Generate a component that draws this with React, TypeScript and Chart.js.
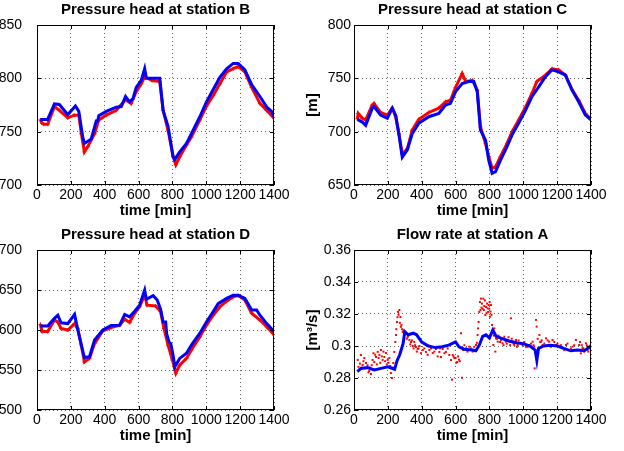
import React, { useEffect, useRef } from 'react';
import { Chart, registerables } from 'chart.js';
Chart.register(...registerables);

const FONT = "'Liberation Sans', Arial, Helvetica, sans-serif";

// x axis (time, min)
const xMin = 0;
const xMax = 1400;
const xStep = 200;
const xLabels = ['0', '200', '400', '600', '800', '1000', '1200', '1400'];

// ---------- Station B ----------
const bTicks = ['700', '750', '800', '850'];
const bBlueT = [20, 63, 103, 132, 182, 227, 247, 270, 280, 320, 350, 358, 365, 409, 468, 498, 523, 547, 567, 586, 616, 636, 646, 725, 745, 774, 804, 814, 843, 883, 912, 962, 1001, 1041, 1080, 1120, 1159, 1189, 1228, 1268, 1317, 1357, 1386, 1400];
const bBlueV = [761.5, 761.5, 776, 775.5, 766, 774, 769, 745, 739, 743, 760, 760, 765, 769, 773, 773.5, 783, 778, 781, 791.5, 798, 809, 800, 800, 770, 755, 726.5, 724, 731, 739, 748, 764, 778, 789.5, 801, 809, 814, 814, 808, 794, 783, 773, 769, 764];
const bRedT = [20, 30, 40, 63, 103, 132, 182, 220, 247, 262, 280, 300, 340, 365, 409, 468, 523, 556, 586, 616, 636, 680, 725, 745, 774, 804, 820, 843, 883, 912, 962, 1001, 1041, 1080, 1120, 1159, 1189, 1228, 1268, 1317, 1357, 1400];
const bRedV = [761, 758, 757, 757, 773.5, 770, 763, 765.5, 765.5, 748, 731, 736, 748, 761, 765.5, 770, 780, 776.5, 787.5, 795, 801.5, 798, 797, 770, 751.5, 726.5, 719, 726.5, 737.5, 745, 761, 774, 784, 795, 806, 809, 811, 806, 791.5, 776.5, 770, 762.5];

// ---------- Station C ----------
const cTicks = ['650', '700', '750', '800'];
const cBlueT = [20, 49, 69, 108, 118, 157, 197, 226, 246, 265, 285, 315, 344, 383, 442, 501, 541, 570, 600, 639, 678, 708, 728, 747, 777, 796, 816, 836, 865, 904, 934, 973, 1013, 1052, 1091, 1131, 1170, 1209, 1249, 1288, 1327, 1367, 1400];
const cBlueV = [711.5, 709, 706, 722, 723.5, 715.5, 712.5, 722, 715.5, 698, 676, 683, 698, 708, 714, 717, 725, 726.5, 737.5, 745, 747, 747, 737.5, 701.5, 692, 673, 661, 662.5, 673, 686, 697, 708, 720, 733, 742, 751.5, 758, 756, 753, 739, 728, 715.5, 711];
const cRedT = [20, 25, 49, 69, 108, 118, 157, 197, 226, 246, 265, 285, 315, 344, 383, 442, 501, 541, 570, 600, 639, 660, 700, 728, 747, 777, 796, 816, 836, 865, 904, 934, 973, 1013, 1052, 1080, 1131, 1170, 1209, 1249, 1288, 1327, 1367, 1400];
const cRedV = [712, 717, 712.5, 711, 725, 726.5, 718, 715.5, 722, 714, 698, 679, 684, 701.5, 711.5, 718, 722, 728, 729.5, 741.5, 754.5, 747, 748, 739, 704.5, 689, 676.5, 665.5, 667, 676.5, 689, 700, 711, 723, 736, 747, 753, 759, 758, 753, 739.5, 729.5, 717, 711.5];

// ---------- Station D ----------
const dTicks = ['500', '550', '600', '650', '700'];
const dBlueT = [20, 63, 103, 123, 142, 182, 222, 237, 262, 280, 310, 340, 389, 438, 488, 518, 547, 577, 606, 636, 646, 686, 710, 730, 745, 760, 766, 780, 790, 804, 814, 843, 883, 912, 962, 1001, 1041, 1070, 1120, 1159, 1189, 1228, 1268, 1297, 1317, 1357, 1400];
const dBlueV = [605, 605, 614.5, 618.5, 609, 608, 619.5, 604, 581, 565.5, 566.5, 587.5, 600, 605.5, 606, 619.5, 616.5, 623.5, 631, 650, 638.5, 643, 637.5, 626, 610, 610, 595, 585, 583, 568.5, 554, 564.5, 571, 581, 596, 610, 623, 633, 639.5, 643.5, 643.5, 639.5, 625, 625, 618.5, 608, 598];
const dRedT = [20, 30, 63, 103, 123, 142, 182, 222, 240, 262, 280, 310, 340, 389, 438, 488, 518, 547, 577, 606, 636, 650, 700, 730, 750, 774, 800, 820, 843, 883, 912, 962, 1001, 1041, 1080, 1120, 1159, 1189, 1228, 1268, 1317, 1357, 1400];
const dRedV = [607, 598, 598, 612.5, 610, 602, 600, 608, 602, 581, 560, 564.5, 583, 599, 603, 606, 613.5, 609.5, 621, 629, 644, 631, 630, 623, 602, 581, 562.5, 546, 556, 564.5, 575, 591.5, 606, 618.5, 629, 636, 641.5, 643, 637.5, 621, 612.5, 604, 594];

// ---------- Flow rate at station A ----------
const aTicks = ['0.26', '0.28', '0.3', '0.32', '0.34', '0.36'];
const aBlueT = [20, 40, 80, 120, 160, 200, 240, 255, 270, 290, 300, 320, 350, 370, 400, 440, 480, 520, 560, 600, 620, 650, 700, 720, 740, 760, 780, 800, 820, 840, 880, 920, 960, 1000, 1040, 1070, 1080, 1090, 1120, 1160, 1200, 1240, 1280, 1320, 1360, 1400];
const aBlueV = [0.284, 0.286, 0.2865, 0.285, 0.286, 0.287, 0.2855, 0.291, 0.2945, 0.3015, 0.309, 0.307, 0.308, 0.307, 0.3025, 0.3, 0.299, 0.2995, 0.3005, 0.3025, 0.2995, 0.298, 0.2975, 0.297, 0.3005, 0.306, 0.307, 0.305, 0.31, 0.306, 0.3045, 0.303, 0.302, 0.3015, 0.3, 0.2975, 0.291, 0.2985, 0.3, 0.3005, 0.3, 0.2985, 0.297, 0.2975, 0.297, 0.3];
const aRedT = [22, 31, 41, 51, 61, 71, 90, 100, 110, 130, 140, 150, 159, 169, 179, 189, 199, 209, 218, 224, 232, 238, 244, 248, 254, 260, 268, 274, 280, 288, 297, 307, 317, 327, 337, 347, 356, 366, 376, 386, 406, 425, 445, 465, 484, 504, 514, 524, 543, 563, 573, 579, 583, 593, 600, 610, 620, 632, 638, 645, 662, 681, 701, 721, 730, 736, 740, 744, 750, 756, 760, 764, 770, 776, 780, 786, 792, 796, 799, 803, 809, 815, 819, 823, 829, 835, 839, 849, 858, 868, 878, 888, 898, 908, 917, 927, 937, 947, 957, 967, 977, 996, 1016, 1035, 1055, 1065, 1067, 1075, 1079, 1095, 1104, 1114, 1134, 1153, 1173, 1193, 1212, 1232, 1252, 1271, 1291, 1311, 1330, 1340, 1350, 1360, 1370, 1379, 1389, 1399];
const aRedV = [0.2913, 0.285, 0.2944, 0.2881, 0.2925, 0.2894, 0.2844, 0.2825, 0.2913, 0.2931, 0.2963, 0.2944, 0.2975, 0.2913, 0.2931, 0.2956, 0.2913, 0.2925, 0.2831, 0.28, 0.2894, 0.2963, 0.3025, 0.3069, 0.315, 0.3213, 0.3225, 0.3181, 0.3131, 0.3088, 0.3069, 0.3081, 0.3056, 0.3038, 0.3025, 0.3, 0.3025, 0.2994, 0.2981, 0.3, 0.2975, 0.2963, 0.2975, 0.2956, 0.2981, 0.2963, 0.2931, 0.2981, 0.2963, 0.2944, 0.2913, 0.279, 0.2944, 0.2925, 0.2925, 0.29, 0.2915, 0.308, 0.2802, 0.2975, 0.2986, 0.2996, 0.2965, 0.3006, 0.3069, 0.315, 0.3213, 0.3275, 0.3296, 0.3265, 0.3233, 0.3296, 0.325, 0.3194, 0.3244, 0.3265, 0.3213, 0.3256, 0.3233, 0.3183, 0.3256, 0.3131, 0.3079, 0.3006, 0.311, 0.2965, 0.3048, 0.3027, 0.3058, 0.3038, 0.3017, 0.3058, 0.3027, 0.3038, 0.3027, 0.3173, 0.3027, 0.3006, 0.3038, 0.3006, 0.3017, 0.3006, 0.2996, 0.3006, 0.3027, 0.2996, 0.286, 0.3163, 0.3121, 0.3069, 0.3027, 0.3006, 0.3048, 0.3027, 0.3038, 0.3006, 0.2996, 0.2986, 0.3006, 0.2975, 0.2996, 0.3038, 0.3006, 0.2954, 0.2986, 0.2965, 0.3017, 0.2975, 0.2996, 0.3006];
const aRedT2 = [26, 35, 46, 56, 66, 80, 85, 95, 105, 115, 120, 125, 135, 145, 155, 164, 174, 184, 194, 204, 214, 228, 250, 257, 263, 271, 277, 284, 292, 302, 312, 322, 332, 342, 352, 361, 371, 381, 396, 415, 435, 455, 475, 494, 509, 534, 553, 588, 605, 615, 625, 652, 670, 690, 710, 726, 733, 747, 753, 767, 773, 783, 789, 801, 806, 812, 826, 844, 853, 863, 873, 883, 893, 903, 913, 922, 932, 942, 952, 962, 972, 986, 1006, 1026, 1045, 1060, 1085, 1100, 1109, 1124, 1144, 1163, 1183, 1202, 1222, 1242, 1261, 1281, 1301, 1320, 1335, 1345, 1355, 1365, 1375, 1384, 1394];
const aRedV2 = [0.287, 0.289, 0.2865, 0.2905, 0.286, 0.288, 0.2835, 0.2865, 0.288, 0.2955, 0.29, 0.2945, 0.2885, 0.2925, 0.2895, 0.2935, 0.2965, 0.2905, 0.2885, 0.2895, 0.2875, 0.2865, 0.3105, 0.318, 0.3195, 0.3145, 0.312, 0.3105, 0.3095, 0.3075, 0.3045, 0.3065, 0.301, 0.3035, 0.2985, 0.3005, 0.2965, 0.2985, 0.2955, 0.2985, 0.2945, 0.2985, 0.2965, 0.2935, 0.2985, 0.2955, 0.2985, 0.2935, 0.2895, 0.2935, 0.2905, 0.3005, 0.2965, 0.2985, 0.2995, 0.302, 0.311, 0.3225, 0.324, 0.3225, 0.3285, 0.3205, 0.3235, 0.3275, 0.3215, 0.3195, 0.3065, 0.3045, 0.3065, 0.3025, 0.3045, 0.3005, 0.3035, 0.3015, 0.3055, 0.3005, 0.3045, 0.3015, 0.3025, 0.2995, 0.3035, 0.3015, 0.3025, 0.2995, 0.3015, 0.3005, 0.3045, 0.3025, 0.3035, 0.3015, 0.3035, 0.2995, 0.3025, 0.3015, 0.3005, 0.2975, 0.3015, 0.2985, 0.3005, 0.2975, 0.3025, 0.3005, 0.2985, 0.2975, 0.3005, 0.2965, 0.2985];

const BLUE = '#0000ff';
const RED = '#ff0000';

const boxPlugin = {
  id: 'matlabBox',
  afterDraw(chart: any) {
    const { ctx, chartArea } = chart;
    const { left, right, top, bottom } = chartArea;
    ctx.save();
    ctx.strokeStyle = '#000';
    ctx.lineWidth = 1;
    ctx.setLineDash([]);
    ctx.strokeRect(Math.round(left) + 0.5, Math.round(top) + 0.5, Math.round(right - left) - 1, Math.round(bottom - top) - 1);
    const tl = 4;
    ctx.beginPath();
    chart.scales.x.ticks.forEach((t: any) => {
      const px = Math.round(chart.scales.x.getPixelForValue(t.value)) + 0.5;
      ctx.moveTo(px, bottom);
      ctx.lineTo(px, bottom - tl);
      ctx.moveTo(px, top);
      ctx.lineTo(px, top + tl);
    });
    chart.scales.y.ticks.forEach((t: any) => {
      const py = Math.round(chart.scales.y.getPixelForValue(t.value)) + 0.5;
      ctx.moveTo(left, py);
      ctx.lineTo(left + tl, py);
      ctx.moveTo(right, py);
      ctx.lineTo(right - tl, py);
    });
    ctx.stroke();
    // title centred over the plot box
    const title = chart.options.plugins.boxTitle?.text;
    if (title) {
      ctx.fillStyle = '#000';
      ctx.font = `bold 15px ${FONT}`;
      ctx.textAlign = 'center';
      ctx.textBaseline = 'middle';
      ctx.fillText(title, (left + right) / 2, 10);
    }
    ctx.restore();
  },
};

type PanelProps = {
  left: number;
  top: number;
  width: number;
  height: number;
  yW: number;
  yPad: number;
  padRight: number;
  yMin: number;
  yMax: number;
  yStep: number;
  yLabels: string[];
  title: string;
  yTitle?: string;
  blueT: number[];
  blueV: number[];
  redT: number[];
  redV: number[];
  redScatter?: boolean;
};

function Panel(p: PanelProps) {
  const ref = useRef<HTMLCanvasElement>(null);
  useEffect(() => {
    const pts = (t: number[], v: number[]) => t.map((x, i) => ({ x, y: v[i] }));
    const redDs: any = p.redScatter
      ? {
          data: pts(p.redT, p.redV),
          showLine: false,
          pointRadius: 1.4,
          pointStyle: 'rect',
          pointBackgroundColor: RED,
          pointBorderColor: RED,
          pointBorderWidth: 0,
        }
      : {
          data: pts(p.redT, p.redV),
          showLine: true,
          borderColor: RED,
          borderWidth: 3,
          pointRadius: 2,
          pointStyle: 'cross',
          pointBorderColor: RED,
          pointBorderWidth: 1,
        };
    const chart = new Chart(ref.current!, {
      type: 'scatter',
      data: {
        datasets: [
          {
            data: pts(p.blueT, p.blueV),
            showLine: true,
            borderColor: BLUE,
            backgroundColor: BLUE,
            borderWidth: 3,
            pointRadius: 0,
          } as any,
          redDs,
        ],
      },
      options: {
        animation: false,
        responsive: false,
        devicePixelRatio: 1,
        layout: { padding: { left: 0, right: p.padRight, top: 25, bottom: 0 } },
        plugins: {
          legend: { display: false },
          tooltip: { enabled: false },
          title: { display: false },
          boxTitle: { text: p.title },
        },
        scales: {
          x: {
            type: 'linear',
            min: xMin,
            max: xMax,
            ticks: {
              stepSize: xStep,
              color: '#000',
              font: { family: FONT, size: 14 },
              padding: 2,
              maxRotation: 0,
              autoSkip: false,
              callback: (_v: any, i: number) => xLabels[i],
            },
            grid: { color: 'rgba(0,0,0,0.6)', drawTicks: false, lineWidth: 1 },
            border: { display: false, dash: [1, 3] },
            title: {
              display: true,
              text: 'time [min]',
              color: '#000',
              font: { family: FONT, size: 15, weight: 'bold' },
              padding: { top: 0, bottom: 5 },
            },
            afterFit: (s: any) => {
              s.height = 40;
              s.paddingLeft = 0;
              s.paddingRight = 0;
            },
          },
          y: {
            type: 'linear',
            min: p.yMin,
            max: p.yMax,
            ticks: {
              stepSize: p.yStep,
              color: '#000',
              font: { family: FONT, size: 14 },
              padding: p.yPad,
              autoSkip: false,
              callback: (_v: any, i: number) => p.yLabels[i],
            },
            grid: { color: 'rgba(0,0,0,0.6)', drawTicks: false, lineWidth: 1 },
            border: { display: false, dash: [1, 3] },
            title: p.yTitle
              ? {
                  display: true,
                  text: p.yTitle,
                  color: '#000',
                  font: { family: FONT, size: 15, weight: 'bold' },
                  padding: { top: 4, bottom: 0 },
                }
              : { display: false },
            afterFit: (s: any) => {
              s.width = p.yW;
              s.paddingTop = 0;
              s.paddingBottom = 0;
            },
          },
        },
      } as any,
      plugins: [boxPlugin],
    });
    return () => chart.destroy();
  }, []);
  return (
    <canvas
      ref={ref}
      width={p.width}
      height={p.height}
      style={{ position: 'absolute', left: p.left, top: p.top, width: p.width, height: p.height }}
    />
  );
}

export default function App() {
  return (
    <div style={{ position: 'fixed', left: 0, top: 0, width: 624, height: 451, background: '#fff', overflow: 'hidden' }}>
      <Panel left={0} top={0} width={300} height={225} yW={37} yPad={15} padRight={26} yMin={700} yMax={850} yStep={50} yLabels={bTicks}
        title="Pressure head at station B" blueT={bBlueT} blueV={bBlueV} redT={bRedT} redV={bRedV} />
      <Panel left={300} top={0} width={324} height={225} yW={54} yPad={3} padRight={33} yMin={650} yMax={800} yStep={50} yLabels={cTicks}
        title="Pressure head at station C" yTitle="[m]" blueT={cBlueT} blueV={cBlueV} redT={cRedT} redV={cRedV} />
      <Panel left={0} top={225} width={300} height={225} yW={37} yPad={15} padRight={26} yMin={500} yMax={700} yStep={50} yLabels={dTicks}
        title="Pressure head at station D" blueT={dBlueT} blueV={dBlueV} redT={dRedT} redV={dRedV} />
      <Panel left={300} top={225} width={324} height={225} yW={54} yPad={3} padRight={33} yMin={0.26} yMax={0.36} yStep={0.02} yLabels={aTicks}
        title="Flow rate at station A" yTitle="[m³/s]" blueT={aBlueT} blueV={aBlueV}
        redT={aRedT.concat(aRedT2)} redV={aRedV.concat(aRedV2)} redScatter />
    </div>
  );
}
